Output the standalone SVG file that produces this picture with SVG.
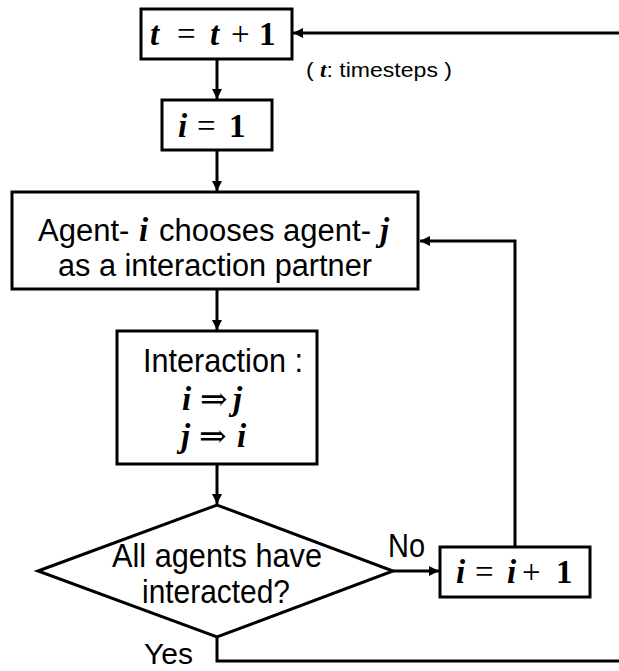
<svg xmlns="http://www.w3.org/2000/svg" width="619" height="671" viewBox="0 0 619 671">
<defs>
<style>
.box{fill:#fff;stroke:#000;stroke-width:3}
.ln{fill:none;stroke:#000;stroke-width:3}
.t{font-family:"Liberation Sans",Arial,sans-serif;font-size:33px;fill:#000}
.t31{font-family:"Liberation Sans",Arial,sans-serif;font-size:31px;fill:#000}
.m{font-family:"Liberation Serif","Times New Roman",serif;font-size:33px;font-weight:bold;font-style:italic;fill:#000}
.mo{font-family:"Liberation Serif","DejaVu Serif",serif;font-size:33px;fill:#000}
.n{font-family:"Liberation Sans",Arial,sans-serif;font-size:20px;fill:#000}
</style>
<marker id="ah" markerUnits="userSpaceOnUse" markerWidth="12" markerHeight="10" refX="10" refY="5" orient="auto">
<path d="M0,0 L10,5 L0,10 Z" fill="#000"/>
</marker>
</defs>
<g id="connectors">
<path class="ln" d="M619,33 H293" marker-end="url(#ah)"/>
<path class="ln" d="M217,60 V99" marker-end="url(#ah)"/>
<path class="ln" d="M217,151 V191" marker-end="url(#ah)"/>
<path class="ln" d="M217,290 V330" marker-end="url(#ah)"/>
<path class="ln" d="M217,465 V504" marker-end="url(#ah)"/>
<path class="ln" d="M393,571 H439" marker-end="url(#ah)"/>
<path class="ln" d="M515,547 V241 H420" marker-end="url(#ah)"/>
<path class="ln" d="M217,637 V661 H619"/>
</g>
<g id="n_t">
<rect class="box" x="141" y="9" width="151" height="50"/>
<text y="45"><tspan class="m" x="150">t</tspan><tspan class="mo" x="177">=</tspan><tspan class="m" x="210">t</tspan><tspan class="mo" x="231">+</tspan><tspan class="mo" style="font-weight:bold" x="259">1</tspan></text>
</g>
<text id="note" class="n" x="306" y="77" textLength="146" lengthAdjust="spacingAndGlyphs">( <tspan style="font-family:'Liberation Serif',serif;font-weight:bold;font-style:italic">t</tspan>: timesteps )</text>
<g id="n_i1">
<rect class="box" x="162" y="100" width="110" height="50"/>
<text y="137"><tspan class="m" x="178">i</tspan><tspan class="mo" x="197">=</tspan><tspan class="mo" style="font-weight:bold" x="229">1</tspan></text>
</g>
<g id="n_choose">
<rect class="box" x="12" y="192" width="406" height="97"/>
<text class="t31" x="38" y="241">Agent-</text>
<text class="m" x="139" y="241">i</text>
<text class="t31" x="159" y="241">chooses agent-</text>
<text class="m" x="380" y="241">j</text>
<text class="t31" x="58" y="276" textLength="314" lengthAdjust="spacingAndGlyphs">as a interaction partner</text>
</g>
<g id="n_inter">
<rect class="box" x="117" y="331" width="200" height="133"/>
<text class="t" x="143" y="372" textLength="160" lengthAdjust="spacingAndGlyphs">Interaction :</text>
<text y="410"><tspan class="m" x="182">i</tspan><tspan class="mo" x="200">⇒</tspan><tspan class="m" x="233">j</tspan></text>
<text y="447"><tspan class="m" x="181">j</tspan><tspan class="mo" x="199">⇒</tspan><tspan class="m" x="237">i</tspan></text>
</g>
<g id="n_dec">
<polygon class="box" points="38,571 217,505 393,571 217,637"/>
<text class="t" x="112" y="567" textLength="210" lengthAdjust="spacingAndGlyphs">All agents have</text>
<text class="t" x="142" y="603" textLength="148" lengthAdjust="spacingAndGlyphs">interacted?</text>
</g>
<text id="lbl_no" class="t" x="388" y="557" textLength="37" lengthAdjust="spacingAndGlyphs">No</text>
<text id="lbl_yes" class="t" x="144" y="664" style="font-size:30px" textLength="49" lengthAdjust="spacingAndGlyphs">Yes</text>
<g id="n_inc">
<rect class="box" x="440" y="547" width="150" height="50"/>
<text y="583"><tspan class="m" x="456">i</tspan><tspan class="mo" x="475">=</tspan><tspan class="m" x="507">i</tspan><tspan class="mo" x="522">+</tspan><tspan class="mo" style="font-weight:bold" x="556">1</tspan></text>
</g>
</svg>
